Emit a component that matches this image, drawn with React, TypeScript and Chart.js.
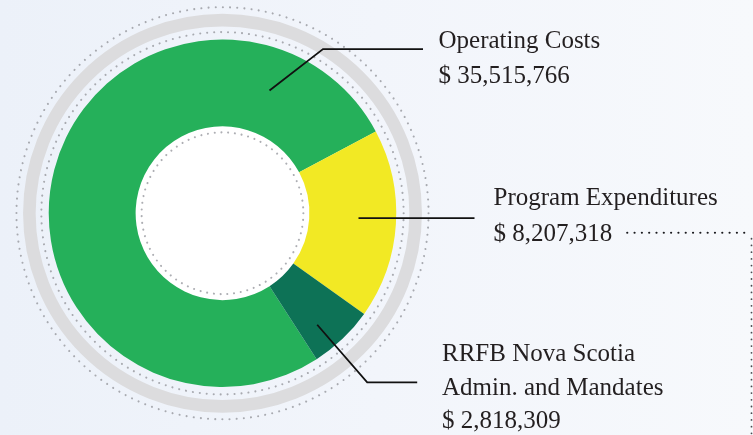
import React, { useEffect, useRef } from 'react';
import { Chart, registerables } from 'chart.js';

Chart.register(...registerables);

// ---- data ----
const categories = ['Operating Costs', 'Program Expenditures', 'RRFB Nova Scotia Admin. and Mandates'];
const amounts = [35515766, 8207318, 2818309];
const labelLines = [['Operating Costs'], ['Program Expenditures'], ['RRFB Nova Scotia', 'Admin. and Mandates']];
const sliceColors = ['#25B05A', '#F2E924', '#0D7256'];

// leader geometry relative to doughnut centre (px)
const leaders = [
  { pts: [[47, -122.8], [100.5, -164.2], [200.5, -164.2]], text: [216, -165.2], gap: 35 },
  { pts: [[136, 4.8], [252, 4.8]], text: [271, -8.5], gap: 36.5 },
  { pts: [[94.7, 111.5], [144.7, 169.2], [194.7, 169.2]], text: [219.5, 147.8], gap: 33.6 },
];

const fmt = (n: number) => '$ ' + n.toLocaleString('en-US');

function dottedCircle(ctx: CanvasRenderingContext2D, x: number, y: number, r: number, step: number, color: string, w: number) {
  const circ = 2 * Math.PI * r;
  const n = Math.round(circ / step);
  const s = circ / n;
  ctx.save();
  ctx.beginPath();
  ctx.setLineDash([0.01, s - 0.01]);
  ctx.lineCap = 'round';
  ctx.lineWidth = w;
  ctx.strokeStyle = color;
  ctx.arc(x, y, r, 0, Math.PI * 2);
  ctx.stroke();
  ctx.restore();
}

const decor = {
  id: 'decor',
  beforeDatasetsDraw(chart: any) {
    const ctx: CanvasRenderingContext2D = chart.ctx;
    const arc = chart.getDatasetMeta(0).data[0];
    const { x, y, outerRadius: R, innerRadius: r } = arc;
    dottedCircle(ctx, x, y, R + 32.3, 7.2, '#A8AAB0', 2.1);
    ctx.save();
    ctx.beginPath();
    ctx.arc(x, y, R + 19.4, 0, Math.PI * 2);
    ctx.lineWidth = 12.6;
    ctx.strokeStyle = '#DCDCDE';
    ctx.stroke();
    ctx.restore();
    dottedCircle(ctx, x, y, R + 7.4, 7.0, '#A8AAB0', 2.1);
    ctx.save();
    ctx.beginPath();
    ctx.arc(x, y, r + 0.5, 0, Math.PI * 2);
    ctx.fillStyle = '#FFFFFF';
    ctx.fill();
    ctx.restore();
    dottedCircle(ctx, x, y, r - 6, 6.8, '#ADAEB3', 2.1);
  },
  afterDatasetsDraw(chart: any) {
    const ctx: CanvasRenderingContext2D = chart.ctx;
    const arc = chart.getDatasetMeta(0).data[0];
    const { x, y } = arc;
    ctx.save();
    ctx.strokeStyle = '#111111';
    ctx.lineWidth = 1.8;
    ctx.fillStyle = '#231F20';
    ctx.font = '25px "Liberation Serif", serif';
    ctx.textBaseline = 'alphabetic';
    let progEnd = 0;
    let progY = 0;
    leaders.forEach((l, i) => {
      ctx.beginPath();
      l.pts.forEach((p, j) => {
        if (j === 0) ctx.moveTo(x + p[0], y + p[1]);
        else ctx.lineTo(x + p[0], y + p[1]);
      });
      ctx.stroke();
      const lines = [...labelLines[i], fmt(amounts[i])];
      lines.forEach((t, k) => {
        ctx.fillText(t, x + l.text[0], y + l.text[1] + k * l.gap);
      });
      if (i === 1) {
        const last = lines[lines.length - 1];
        progEnd = x + l.text[0] + ctx.measureText(last).width;
        progY = y + l.text[1] + (lines.length - 1) * l.gap - 8.5;
      }
    });
    // dotted connector from program value
    ctx.beginPath();
    ctx.setLineDash([0.01, 7.3]);
    ctx.lineCap = 'round';
    ctx.lineWidth = 2.2;
    ctx.strokeStyle = '#1A1A1E';
    ctx.moveTo(progEnd + 15, progY);
    ctx.lineTo(751.5, progY);
    ctx.stroke();
    ctx.beginPath();
    ctx.setLineDash([0.01, 6.7]);
    ctx.strokeStyle = '#4A4B50';
    ctx.lineWidth = 1.8;
    ctx.moveTo(751.5, progY + 6);
    ctx.lineTo(751.5, 440);
    ctx.stroke();
    ctx.restore();
  },
};

export default function App() {
  const ref = useRef<HTMLCanvasElement>(null);
  useEffect(() => {
    if (!ref.current) return;
    const chart = new Chart(ref.current, {
      type: 'doughnut',
      data: {
        labels: categories,
        datasets: [
          {
            data: amounts,
            backgroundColor: sliceColors,
            borderWidth: 0,
            hoverOffset: 0,
            offset: 0,
          },
        ],
      },
      options: {
        responsive: false,
        animation: false,
        cutout: '50%',
        rotation: 147.2,
        events: [],
        layout: { autoPadding: false, padding: { left: 48, right: 356, top: 39.5, bottom: 48 } },
        plugins: { legend: { display: false }, tooltip: { enabled: false } },
      } as any,
      plugins: [decor],
    });
    return () => chart.destroy();
  }, []);
  return (
    <div
      style={{
        position: 'absolute',
        left: 0,
        top: 0,
        width: 753,
        height: 435,
        overflow: 'hidden',
        background: 'linear-gradient(to right, #ECF1F9 0%, #F2F5FB 50%, #F7F9FC 100%)',
      }}
    >
      <canvas ref={ref} width={753} height={435} style={{ display: 'block', width: 753, height: 435 }} />
    </div>
  );
}
